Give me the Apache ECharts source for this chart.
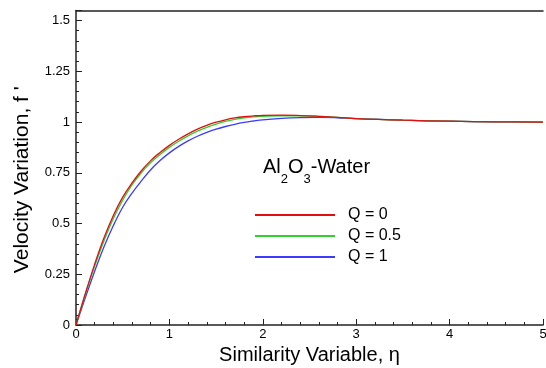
<!DOCTYPE html>
<html>
<head>
<meta charset="utf-8">
<script src="https://cdn.jsdelivr.net/npm/echarts@6/dist/echarts.min.js"></script>
<style>
html,body{margin:0;padding:0;background:#fff;}
#chart{width:546px;height:368px;}
</style>
</head>
<body>
<div id="chart"></div>
<script>
var eta = [0,0.1,0.2,0.3,0.4,0.5,0.6,0.7,0.8,0.9,1.0,1.1,1.2,1.3,1.4,1.5,1.6,1.7,1.8,1.9,2.0,2.2,2.4,2.6,2.8,3.0,3.5,4.0,4.5,5.0];
var q0  = [0,0.155,0.30,0.43,0.54,0.63,0.70,0.76,0.81,0.85,0.885,0.915,0.942,0.965,0.984,0.999,1.011,1.020,1.026,1.030,1.033,1.034,1.032,1.028,1.023,1.017,1.009,1.004,1.001,1.0];
var q05 = [0,0.15,0.29,0.415,0.525,0.615,0.69,0.75,0.80,0.84,0.875,0.905,0.932,0.955,0.974,0.99,1.003,1.013,1.020,1.025,1.028,1.031,1.031,1.028,1.023,1.017,1.009,1.004,1.001,1.0];
var q1  = [0,0.135,0.265,0.385,0.49,0.58,0.65,0.71,0.765,0.81,0.848,0.880,0.907,0.930,0.949,0.965,0.978,0.989,0.998,1.005,1.011,1.018,1.022,1.023,1.021,1.017,1.009,1.004,1.001,1.0];
var seriesNames = ['Q = 0','Q = 0.5','Q = 1'];
var seriesColors = ['#e01010','#30d030','#3b3bff'];
var xTicks = [0,1,2,3,4,5];
var yTicks = [0,0.25,0.5,0.75,1,1.25,1.5];

function pairs(ys){ return eta.map(function(x,i){ return [x, ys[i]]; }); }
var allY = [q0,q05,q1];

var chart = echarts.init(document.getElementById('chart'));
var font = 'Liberation Sans, Arial, sans-serif';
chart.setOption({
  animation:false,
  backgroundColor:'#fff',
  grid:{left:76,right:3,top:10.4,bottom:43,outerBoundsMode:'none',containLabel:false},
  legend:{
    orient:'vertical', left:255, top:207, itemWidth:80, itemHeight:2, itemGap:5,
    padding:0, icon:'rect',
    textStyle:{fontFamily:font,fontSize:16,color:'#000',padding:[0,0,0,8]},
    data:seriesNames
  },
  graphic:[{
    type:'text', left:263, top:157,
    style:{
      rich:{
        n:{fontFamily:font,fontSize:20,fill:'#000'},
        s:{fontFamily:font,fontSize:13,fill:'#000',verticalAlign:'bottom',padding:[0,0,-9,0]}
      },
      text:'{n|Al}{s|2}{n|O}{s|3}{n|-Water}',
      font:'20px '+font
    }
  }],
  xAxis:[{
    type:'value', min:0, max:5, interval:1,
    name:'Similarity Variable, \u03b7', nameLocation:'middle', nameGap:20,
    nameTextStyle:{fontFamily:font,fontSize:20,color:'#000'},
    axisLine:{show:true,onZero:false,lineStyle:{color:'#222',width:1.5}},
    axisTick:{show:true,inside:true,length:6,lineStyle:{color:'#222'}},
    minorTick:{show:true,splitNumber:5,length:3,lineStyle:{color:'#222'}},
    axisLabel:{fontFamily:font,fontSize:13,color:'#000',margin:3,
      formatter:function(v){ return xTicks.indexOf(v)>=0 ? String(v) : ''; }},
    splitLine:{show:false}
  },{
    type:'value', min:0, max:5, position:'top',
    axisLine:{show:true,onZero:false,lineStyle:{color:'#222',width:1.5}},
    axisTick:{show:false}, axisLabel:{show:false}, splitLine:{show:false}
  }],
  yAxis:{
    type:'value', min:0, max:1.55, interval:0.25,
    name:'Velocity Variation, f \'', nameLocation:'middle', nameGap:43,
    nameTextStyle:{fontFamily:font,fontSize:21,color:'#000',padding:[0,24,0,0]},
    axisLine:{show:true,onZero:false,lineStyle:{color:'#222',width:1.5}},
    axisTick:{show:true,inside:true,length:6,lineStyle:{color:'#222'}},
    minorTick:{show:true,splitNumber:5,length:3,lineStyle:{color:'#222'}},
    axisLabel:{fontFamily:font,fontSize:13,color:'#000',margin:6,showMaxLabel:false,
      formatter:function(v){ return yTicks.indexOf(v)>=0 ? String(v) : ''; }},
    splitLine:{show:false}
  },
  series:allY.map(function(ys,i){
    return {
      name:seriesNames[i], type:'line', data:pairs(ys), smooth:0.4,
      showSymbol:false, symbol:'none', z:3-i,
      lineStyle:{color:seriesColors[i],width:1.3},
      itemStyle:{color:seriesColors[i]}
    };
  })
});
</script>
</body>
</html>
